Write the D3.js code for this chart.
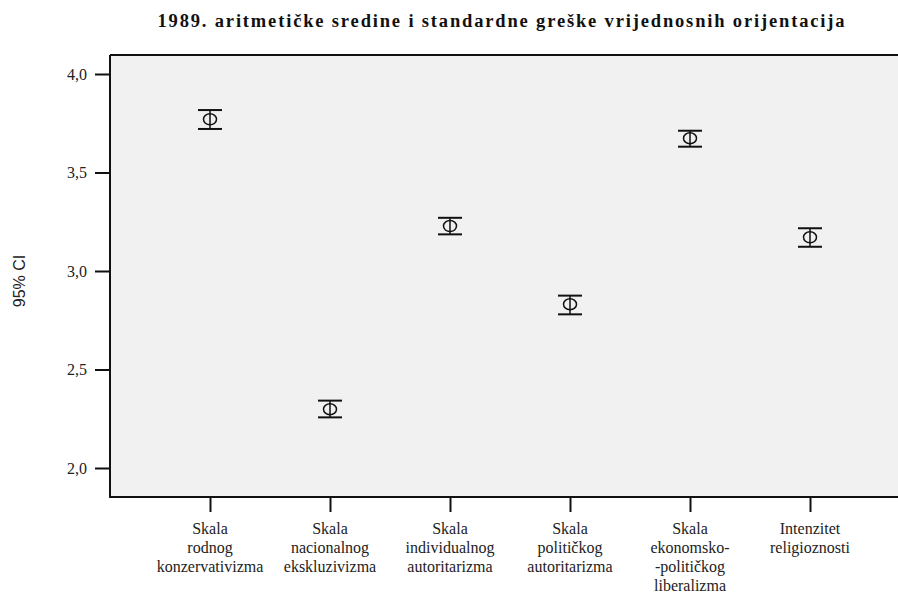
<!DOCTYPE html>
<html>
<head>
<meta charset="utf-8">
<script src="https://cdn.jsdelivr.net/npm/d3@7"></script>
<style>
  html, body { margin: 0; padding: 0; background: #ffffff; }
  svg { display: block; }
  .serif { font-family: "Liberation Serif", "Times New Roman", Times, serif; }
  .sans { font-family: "Liberation Sans", Arial, Helvetica, sans-serif; }
</style>
</head>
<body>
<svg id="chart" width="898" height="596"></svg>
<script>
const title = "1989. aritmetičke sredine i standardne greške vrijednosnih orijentacija";
const yAxisTitle = "95% CI";
const categories = [
  ["Skala", "rodnog", "konzervativizma"],
  ["Skala", "nacionalnog", "ekskluzivizma"],
  ["Skala", "individualnog", "autoritarizma"],
  ["Skala", "političkog", "autoritarizma"],
  ["Skala", "ekonomsko-", "-političkog", "liberalizma"],
  ["Intenzitet", "religioznosti"]
];
const means = [3.770, 2.298, 3.228, 2.831, 3.674, 3.171];
const lower = [3.721, 2.257, 3.186, 2.780, 3.631, 3.123];
const upper = [3.817, 2.342, 3.270, 2.875, 3.712, 3.217];
const yTicks = [2.0, 2.5, 3.0, 3.5, 4.0];

const svg = d3.select("#chart");
const pLeft = 110, pRight = 910, pTop = 55, pBottom = 497;

const x = d3.scalePoint()
  .domain(d3.range(categories.length))
  .range([pLeft, pRight])
  .padding(0.8333);
const y = d3.scaleLinear().domain([2.0, 4.0]).range([468, 74]);

// plot background
svg.append("rect")
  .attr("x", pLeft).attr("y", pTop)
  .attr("width", pRight - pLeft).attr("height", pBottom - pTop)
  .attr("fill", "#f1f1f1");

// top frame line
svg.append("line").attr("x1", pLeft).attr("x2", 898).attr("y1", pTop).attr("y2", pTop)
  .attr("stroke", "#111").attr("stroke-width", 2);

// y axis
const yAxis = d3.axisLeft(y)
  .tickValues(yTicks)
  .tickSize(15)
  .tickPadding(8)
  .tickFormat(d => d3.format(".1f")(d).replace(".", ","));
const gy = svg.append("g").attr("transform", `translate(${pLeft},0)`).call(yAxis);
gy.attr("font-family", null).attr("font-size", null);
gy.select(".domain").remove();
gy.selectAll(".tick line").attr("stroke", "#111").attr("stroke-width", 2);
gy.selectAll(".tick text")
  .attr("class", "serif")
  .attr("font-size", 16).attr("fill", "#222");
svg.append("line").attr("x1", pLeft).attr("x2", pLeft).attr("y1", pTop).attr("y2", pBottom + 1)
  .attr("stroke", "#111").attr("stroke-width", 2);

// x axis
const xAxis = d3.axisBottom(x).tickSize(15).tickFormat("");
const gx = svg.append("g").attr("transform", `translate(0,${pBottom})`).call(xAxis);
gx.select(".domain").remove();
gx.selectAll(".tick line").attr("stroke", "#111").attr("stroke-width", 2);
svg.append("line").attr("x1", pLeft - 1).attr("x2", 898).attr("y1", pBottom).attr("y2", pBottom)
  .attr("stroke", "#111").attr("stroke-width", 2);

// category labels
const labels = svg.append("g")
  .attr("class", "serif")
  .attr("font-size", 16).attr("fill", "#222").attr("text-anchor", "middle");
categories.forEach((lines, i) => {
  const t = labels.append("text").attr("x", x(i)).attr("y", 534);
  lines.forEach((ln, j) => {
    t.append("tspan").attr("x", x(i)).attr("dy", j === 0 ? 0 : 19).text(ln);
  });
});

// error bars
const capW = 12;
const g = svg.append("g").attr("stroke", "#111").attr("fill", "none");
means.forEach((m, i) => {
  const cx = x(i);
  g.append("line").attr("x1", cx).attr("x2", cx)
    .attr("y1", y(upper[i])).attr("y2", y(lower[i])).attr("stroke-width", 1.5);
  g.append("line").attr("x1", cx - capW).attr("x2", cx + capW)
    .attr("y1", y(upper[i])).attr("y2", y(upper[i])).attr("stroke-width", 2);
  g.append("line").attr("x1", cx - capW).attr("x2", cx + capW)
    .attr("y1", y(lower[i])).attr("y2", y(lower[i])).attr("stroke-width", 2);
  g.append("ellipse").attr("cx", cx).attr("cy", y(m))
    .attr("rx", 6.5).attr("ry", 5.5).attr("stroke-width", 1.5);
});

// y axis title
svg.append("text")
  .attr("class", "sans")
  .attr("transform", "translate(25,281) rotate(-90)")
  .attr("text-anchor", "middle")
  .attr("font-size", 16).attr("fill", "#222")
  .text(yAxisTitle);

// title
const tt = svg.append("text")
  .attr("class", "serif")
  .attr("x", 501).attr("y", 27)
  .attr("text-anchor", "middle")
  .attr("font-weight", "bold")
  .attr("font-size", 18.5).attr("fill", "#111")
  .text(title);
const targetW = 687;
const w = tt.node().getComputedTextLength();
if (Math.abs(w - targetW) > 4) {
  tt.attr("textLength", targetW).attr("lengthAdjust", "spacing");
}
</script>
</body>
</html>
